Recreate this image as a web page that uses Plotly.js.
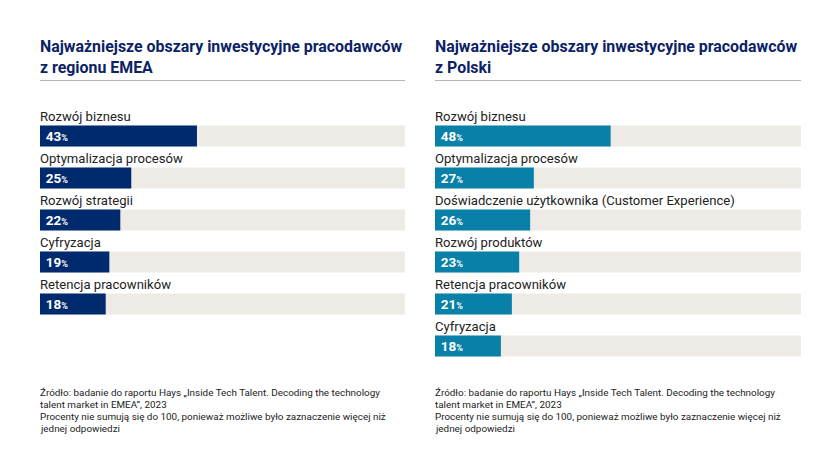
<!DOCTYPE html>
<html><head><meta charset="utf-8">
<script src="https://cdn.plot.ly/plotly-3.0.1.min.js"></script>
<style>html,body{margin:0;padding:0;background:#fff;}#chart{width:840px;height:470px;}</style>
</head><body><div id="chart"></div>
<script>
const emeaCats = ["Rozwój biznesu","Optymalizacja procesów","Rozwój strategii","Cyfryzacja","Retencja pracowników"];
const emeaVals = [43,25,22,19,18];
const plCats = ["Rozwój biznesu","Optymalizacja procesów","Doświadczenie użytkownika (Customer Experience)","Rozwój produktów","Retencja pracowników","Cyfryzacja"];
const plVals = [48,27,26,23,21,18];
const titleLeft = "Najważniejsze obszary inwestycyjne pracodawców<br>z regionu EMEA";
const titleRight = "Najważniejsze obszary inwestycyjne pracodawców<br>z Polski";
const footLines = ["Źródło: badanie do raportu Hays „Inside Tech Talent. Decoding the technology","talent market in EMEA”, 2023","Procenty nie sumują się do 100, ponieważ możliwe było zaznaczenie więcej niż","jednej odpowiedzi"];
const fullScale = 100;

const W = 840, H = 470;
const px = x => x / W, py = y => (H - y) / H;
const navy = "#002a6e", teal = "#0880a8", bg = "#eeebe6";
const idx = a => a.map((_, i) => i);
const pctText = a => a.map(v => "<b>\u2009" + v + "<span style='font-size:9px'>%</span></b>");

const traces = [
  {type:"bar", orientation:"h", x:emeaCats.map(()=>fullScale), y:idx(emeaCats), marker:{color:bg}, width:0.5, hoverinfo:"skip", xaxis:"x", yaxis:"y"},
  {type:"bar", orientation:"h", x:emeaVals, y:idx(emeaCats), marker:{color:navy}, width:0.5, text:pctText(emeaVals), textposition:"inside", insidetextanchor:"start", textfont:{color:"#fff", size:13.5, family:"Roboto"}, constraintext:"none", xaxis:"x", yaxis:"y"},
  {type:"bar", orientation:"h", x:plCats.map(()=>fullScale), y:idx(plCats), marker:{color:bg}, width:0.5, hoverinfo:"skip", xaxis:"x2", yaxis:"y2"},
  {type:"bar", orientation:"h", x:plVals, y:idx(plCats), marker:{color:teal}, width:0.5, text:pctText(plVals), textposition:"inside", insidetextanchor:"start", textfont:{color:"#fff", size:13.5, family:"Roboto"}, constraintext:"none", xaxis:"x2", yaxis:"y2"}
];

const labFont = {family:"Roboto", size:13.1, color:"#222"};
const annotations = [];
emeaCats.forEach((c,i)=>annotations.push({xref:"x", yref:"y", x:0, y:i, yshift:20, text:c, showarrow:false, xanchor:"left", yanchor:"middle", xshift:-2, font:labFont}));
plCats.forEach((c,i)=>annotations.push({xref:"x2", yref:"y2", x:0, y:i, yshift:20, text:c, showarrow:false, xanchor:"left", yanchor:"middle", xshift:-2, font:labFont}));
annotations.push({xref:"paper", yref:"paper", x:px(38), y:py(35), text:"<b>"+titleLeft+"</b>", showarrow:false, xanchor:"left", yanchor:"top", align:"left", font:{family:"Roboto", size:15.9, color:"#0b2265"}});
annotations.push({xref:"paper", yref:"paper", x:px(433), y:py(35), text:"<b>"+titleRight+"</b>", showarrow:false, xanchor:"left", yanchor:"top", align:"left", font:{family:"Roboto", size:15.9, color:"#0b2265"}});
footLines.forEach((t,i)=>{
  [38,433].forEach(x0=>annotations.push({xref:"paper", yref:"paper", x:px(x0), y:py(392+12*i), text:t, showarrow:false, xanchor:"left", yanchor:"middle", align:"left", font:{family:"Roboto", size:9.9, color:"#222"}}));
});

const yDom = [py(388), py(94)];
const layout = {
  width:W, height:H, margin:{l:0,r:0,t:0,b:0}, paper_bgcolor:"#fff", plot_bgcolor:"rgba(0,0,0,0)",
  showlegend:false, barmode:"overlay",
  xaxis:{domain:[px(40),px(405)], range:[0,fullScale], visible:false, fixedrange:true},
  xaxis2:{domain:[px(435),px(801)], range:[0,fullScale], visible:false, fixedrange:true},
  yaxis:{domain:yDom, range:[6,-1], visible:false, anchor:"x"},
  yaxis2:{domain:yDom, range:[6,-1], visible:false, anchor:"x2"},
  annotations:annotations,
  shapes:[
    {type:"line", xref:"paper", yref:"paper", x0:px(40), x1:px(405), y0:py(80.5), y1:py(80.5), line:{color:"#b5b5b5", width:1}},
    {type:"line", xref:"paper", yref:"paper", x0:px(435), x1:px(801), y0:py(80.5), y1:py(80.5), line:{color:"#b5b5b5", width:1}}
  ]
};
Plotly.newPlot("chart", traces, layout, {displayModeBar:false, staticPlot:true});
</script></body></html>
